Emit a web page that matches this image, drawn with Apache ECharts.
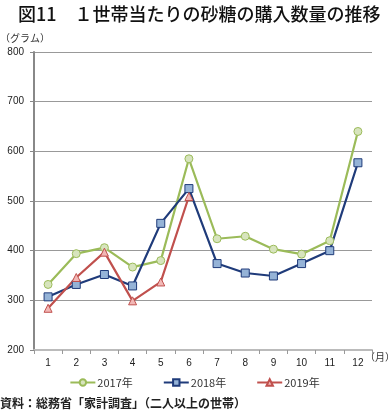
<!DOCTYPE html>
<html><head><meta charset="utf-8">
<script src="https://cdn.jsdelivr.net/npm/echarts@6/dist/echarts.min.js"></script>
<style>html,body{margin:0;padding:0;background:#fff}#c{width:389px;height:414px}</style>
</head><body><div id="c"></div>
<script>
const months = ['1','2','3','4','5','6','7','8','9','10','11','12'];
const yTicks = [200, 300, 400, 500, 600, 700, 800];
const s2017 = [332, 394, 406, 367, 380, 585, 424, 429, 403, 393, 420, 640];
const s2018 = [307, 332, 352, 329, 455, 525, 374, 355, 349, 374, 400, 577];
const s2019 = [284, 346, 397, 299, 337, 509];
const names = ['2017年', '2018年', '2019年'];

const font = '"Noto Sans CJK JP", "Noto Sans", sans-serif';
const chart = echarts.init(document.getElementById('c'));
function ser(name, data, color, fill, symbol, size) {
  return {
    name, type: 'line', data, symbol, symbolSize: size,
    lineStyle: { color, width: 2.2 },
    itemStyle: { color: fill, borderColor: color, borderWidth: 1 },
    emphasis: { disabled: true }, animation: false
  };
}
chart.setOption({
  textStyle: { fontFamily: font },
  title: {
    text: '図11　１世帯当たりの砂糖の購入数量の推移',
    left: 13, top: 0,
    textStyle: { fontSize: 18, fontWeight: 500, color: '#111', fontFamily: font }
  },
  graphic: [
    { type: 'text', left: 0, top: 33, style: { text: '（グラム）', fontSize: 10, fill: '#333', fontFamily: font } },
    { type: 'text', left: 365, top: 352, style: { text: '（月）', fontSize: 10, fill: '#333', fontFamily: font } },
    { type: 'text', left: 0, top: 397, style: { text: '資料：総務省「家計調査」（二人以上の世帯）', fontSize: 12, fontWeight: 'bold', fill: '#222', fontFamily: font } }
  ],
  grid: { left: 34, right: 17, top: 52, bottom: 64 },
  legend: {
    bottom: 21, left: 'center', itemWidth: 25, itemHeight: 8, itemGap: 30,
    data: names,
    textStyle: { fontSize: 11, color: '#333', fontFamily: font, padding: [0, 0, 0, -3] }
  },
  xAxis: {
    type: 'category', data: months, boundaryGap: true,
    axisLine: { lineStyle: { color: '#bbb', width: 2 } },
    axisTick: { show: true, length: 4, lineStyle: { color: '#999' } },
    axisLabel: { fontSize: 10, color: '#222', margin: 8, fontFamily: 'Liberation Sans, Arial, sans-serif' }
  },
  yAxis: {
    type: 'value', min: yTicks[0], max: yTicks[yTicks.length - 1], interval: 100,
    axisLine: { show: true, lineStyle: { color: '#888', width: 2 } },
    axisTick: { show: true, length: 4, lineStyle: { color: '#888' } },
    splitLine: { lineStyle: { color: '#999', width: 1 } },
    axisLabel: { fontSize: 10, color: '#222', margin: 10, fontFamily: 'Liberation Sans, Arial, sans-serif' }
  },
  series: [
    ser(names[0], s2017, '#9BBB59', '#D7E4BD', 'circle', 8),
    ser(names[1], s2018, '#1F3B7A', '#95B3D7', 'rect', 8),
    ser(names[2], s2019, '#C0504D', '#F2B8B6', 'triangle', 8)
  ]
});
</script></body></html>
